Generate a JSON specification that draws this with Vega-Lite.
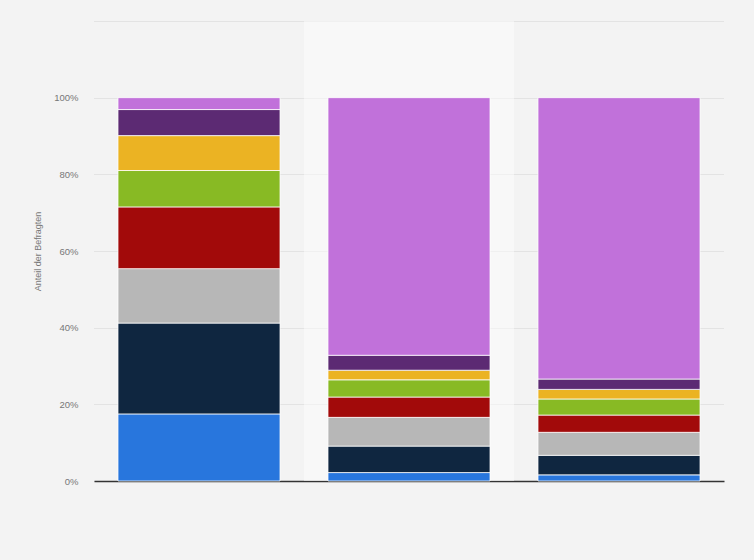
{
  "$schema": "https://vega.github.io/schema/vega-lite/v6.json",
  "width": 630,
  "height": 460,
  "autosize": {"type": "none"},
  "padding": {"left": 94, "top": 21, "right": 30, "bottom": 79},
  "background": "#f3f3f3",
  "config": {
    "view": {"stroke": null},
    "font": "Liberation Sans"
  },
  "datasets": {
    "highlight": [{"gruppe": "Gruppe 2", "von": 0, "bis": 1.2}],
    "anteile": [
      {"gruppe": "Gruppe 1", "kategorie": "Kategorie 1", "idx": 1, "anteil": 0.175},
      {"gruppe": "Gruppe 1", "kategorie": "Kategorie 2", "idx": 2, "anteil": 0.237},
      {"gruppe": "Gruppe 1", "kategorie": "Kategorie 3", "idx": 3, "anteil": 0.142},
      {"gruppe": "Gruppe 1", "kategorie": "Kategorie 4", "idx": 4, "anteil": 0.161},
      {"gruppe": "Gruppe 1", "kategorie": "Kategorie 5", "idx": 5, "anteil": 0.095},
      {"gruppe": "Gruppe 1", "kategorie": "Kategorie 6", "idx": 6, "anteil": 0.091},
      {"gruppe": "Gruppe 1", "kategorie": "Kategorie 7", "idx": 7, "anteil": 0.068},
      {"gruppe": "Gruppe 1", "kategorie": "Kategorie 8", "idx": 8, "anteil": 0.031},
      {"gruppe": "Gruppe 2", "kategorie": "Kategorie 1", "idx": 1, "anteil": 0.022},
      {"gruppe": "Gruppe 2", "kategorie": "Kategorie 2", "idx": 2, "anteil": 0.069},
      {"gruppe": "Gruppe 2", "kategorie": "Kategorie 3", "idx": 3, "anteil": 0.075},
      {"gruppe": "Gruppe 2", "kategorie": "Kategorie 4", "idx": 4, "anteil": 0.053},
      {"gruppe": "Gruppe 2", "kategorie": "Kategorie 5", "idx": 5, "anteil": 0.045},
      {"gruppe": "Gruppe 2", "kategorie": "Kategorie 6", "idx": 6, "anteil": 0.025},
      {"gruppe": "Gruppe 2", "kategorie": "Kategorie 7", "idx": 7, "anteil": 0.039},
      {"gruppe": "Gruppe 2", "kategorie": "Kategorie 8", "idx": 8, "anteil": 0.672},
      {"gruppe": "Gruppe 3", "kategorie": "Kategorie 1", "idx": 1, "anteil": 0.016},
      {"gruppe": "Gruppe 3", "kategorie": "Kategorie 2", "idx": 2, "anteil": 0.051},
      {"gruppe": "Gruppe 3", "kategorie": "Kategorie 3", "idx": 3, "anteil": 0.060},
      {"gruppe": "Gruppe 3", "kategorie": "Kategorie 4", "idx": 4, "anteil": 0.045},
      {"gruppe": "Gruppe 3", "kategorie": "Kategorie 5", "idx": 5, "anteil": 0.042},
      {"gruppe": "Gruppe 3", "kategorie": "Kategorie 6", "idx": 6, "anteil": 0.025},
      {"gruppe": "Gruppe 3", "kategorie": "Kategorie 7", "idx": 7, "anteil": 0.027},
      {"gruppe": "Gruppe 3", "kategorie": "Kategorie 8", "idx": 8, "anteil": 0.734}
    ]
  },
  "encoding": {
    "x": {
      "field": "gruppe",
      "type": "nominal",
      "sort": ["Gruppe 1", "Gruppe 2", "Gruppe 3"],
      "scale": {"domain": ["Gruppe 1", "Gruppe 2", "Gruppe 3"], "paddingInner": 0.23, "paddingOuter": 0.115},
      "axis": {
        "title": null,
        "labels": false,
        "ticks": false,
        "domainColor": "#333333",
        "domainWidth": 1.5
      }
    }
  },
  "layer": [
    {
      "data": {"name": "highlight"},
      "mark": {"type": "bar", "width": 210, "color": "#ffffff", "opacity": 0.45},
      "encoding": {
        "y": {
          "field": "von",
          "type": "quantitative",
          "scale": {"domain": [0, 1.2], "nice": false},
          "axis": {
            "title": "Anteil der Befragten",
            "titleFontSize": 9,
            "titleFontWeight": "normal",
            "titleColor": "#777777",
            "titlePadding": 11,
            "values": [0, 0.2, 0.4, 0.6, 0.8, 1.0, 1.2],
            "format": ".0%",
            "labelExpr": "datum.value > 1.05 ? '' : datum.label",
            "labelFontSize": 9.5,
            "labelColor": "#777777",
            "labelPadding": 16,
            "ticks": false,
            "domain": false,
            "grid": true,
            "gridColor": "#d2d2d2",
            "gridDash": [1, 1],
            "gridWidth": 1
          }
        },
        "y2": {"field": "bis"}
      }
    },
    {
      "data": {"name": "anteile"},
      "mark": {"type": "bar", "width": 162, "stroke": "#ffffff", "strokeWidth": 1, "strokeOpacity": 0.75},
      "encoding": {
        "y": {"field": "anteil", "type": "quantitative", "stack": "zero"},
        "order": {"field": "idx", "type": "quantitative"},
        "color": {
          "field": "kategorie",
          "type": "nominal",
          "legend": null,
          "scale": {
            "domain": ["Kategorie 1", "Kategorie 2", "Kategorie 3", "Kategorie 4", "Kategorie 5", "Kategorie 6", "Kategorie 7", "Kategorie 8"],
            "range": ["#2876dd", "#0f2640", "#b7b7b7", "#a20a0a", "#88ba24", "#ebb323", "#5c2a73", "#c171da"]
          }
        }
      }
    }
  ]
}
